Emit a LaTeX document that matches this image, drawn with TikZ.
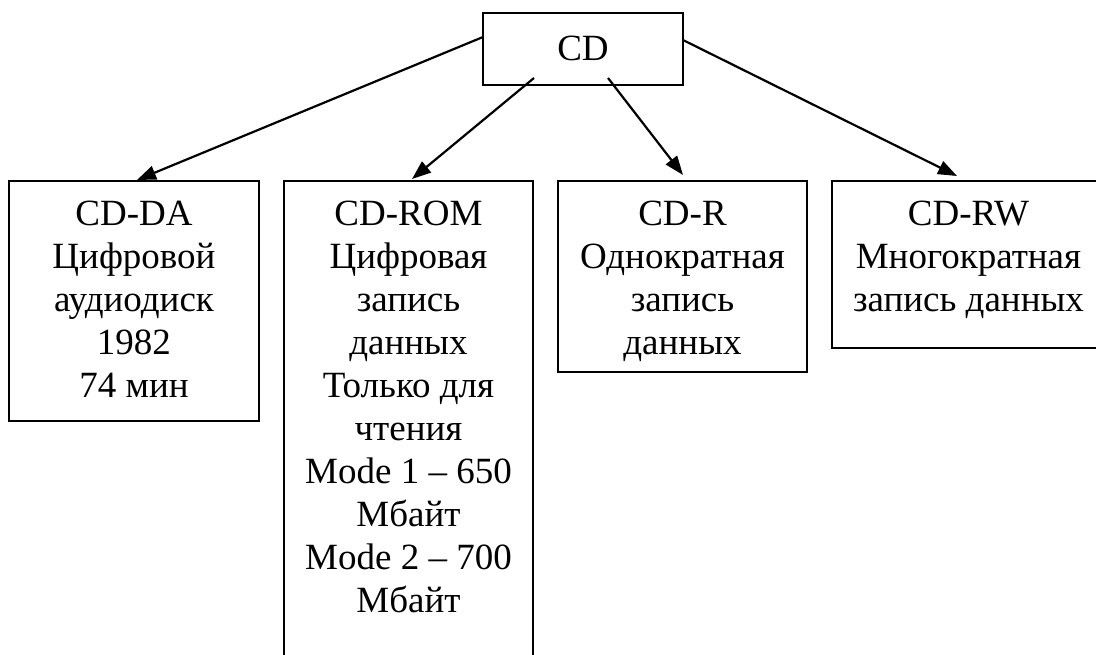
\documentclass[tikz,border=0pt]{standalone}
\usepackage{fontspec}
\setmainfont{Liberation Serif}
\usetikzlibrary{arrows.meta,calc}
\begin{document}
\begin{tikzpicture}[x=1pt,y=-1pt,
  box/.style={draw,line width=2.2pt,inner sep=0pt,outer sep=0pt,anchor=north west},
  lbl/.style={font=\fontsize{37}{43}\selectfont,align=center,inner sep=0pt,anchor=base},
  arr/.style={line width=2.2pt,-{Triangle[length=19pt,width=14pt]}}]
\clip (0,0) rectangle (1096,654);
\node[box,minimum width=200pt,minimum height=72pt] (cd) at (483,13) {};
\node[lbl] (cdt) at (583,60) {CD};
\node[box,minimum width=250pt,minimum height=240pt] (da) at (9,181) {};
\node[box,minimum width=249pt,minimum height=520pt] (rom) at (284,181) {};
\node[box,minimum width=249pt,minimum height=191pt] (r) at (558,181) {};
\node[box,minimum width=273pt,minimum height=167pt] (rw) at (832,181) {};
\node[lbl] (dat) at (134,397) {CD-DA\\Цифровой\\аудиодиск\\1982\\74 мин};
\node[lbl] (romt) at (408.5,612) {CD-ROM\\Цифровая\\запись\\данных\\Только для\\чтения\\Mode 1 – 650\\Мбайт\\Mode 2 – 700\\Мбайт};
\node[lbl] (rt) at (682.5,354) {CD-R\\Однократная\\запись\\данных};
\node[lbl] (rwt) at (968.5,311) {CD-RW\\Многократная\\запись данных};
\draw[arr] ($(cd.west)+(0,-12)$) -- ($(da.north)+(3,-1)$);
\draw[arr] ($(cd.south)+(-49,-7)$) -- ($(rom.north)+(3.5,-2)$);
\draw[arr] ($(cd.south)+(25,-7)$) -- ($(r.north)+(0.5,-6)$);
\draw[arr] ($(cd.east)+(0,-9)$) -- ($(rw.north)+(-11.5,-5)$);
\end{tikzpicture}
\end{document}
